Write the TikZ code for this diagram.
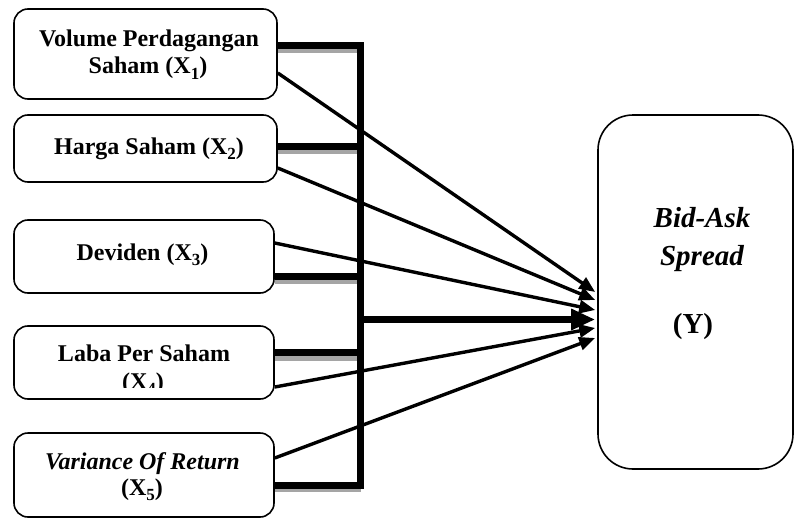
\documentclass[tikz,border=0pt]{standalone}
\usepackage{fontspec}
\setmainfont{Liberation Serif}
\usetikzlibrary{arrows.meta,calc}
\newcommand\lblfont{\fontsize{24}{28}\selectfont\bfseries}
\newcommand\bigfont{\fontsize{29}{34}\selectfont\bfseries}
\newcommand\xsub[1]{\raisebox{-0.22em}{\fontsize{17}{17}\selectfont #1}}
\begin{document}
\begin{tikzpicture}[x=1pt,y=-1pt,
  box/.style={draw, line width=1.6pt, rounded corners=14pt, inner sep=0pt},
  bigbox/.style={draw, line width=1.6pt, rounded corners=35pt, inner sep=0pt,
    minimum width=195pt, minimum height=354pt},
  lbl/.style={anchor=base, inner sep=0pt, font=\lblfont},
  biglbl/.style={anchor=base, inner sep=0pt, font=\bigfont},
  busline/.style={line width=7pt, line join=miter, draw=black},
  shadowline/.style={line width=7pt, draw={rgb,255:red,165;green,165;blue,165}},
  thinarrow/.style={line width=3.4pt, -{Triangle[length=16pt,width=13pt]}},
  bigarrow/.style={line width=7pt, -{Triangle[length=24pt,width=20pt]}}
]
\useasboundingbox (0,0) rectangle (795,519);

% boxes
\node[box, minimum width=263pt, minimum height=90pt] (x1) at (145.5,54) {};
\node[box, minimum width=263pt, minimum height=67pt] (x2) at (145.5,148.5) {};
\node[box, minimum width=260pt, minimum height=73pt] (x3) at (144,256.5) {};
\node[box, minimum width=260pt, minimum height=73pt] (x4) at (144,362.5) {};
\node[box, minimum width=260pt, minimum height=84pt] (x5) at (144,475) {};
\node[bigbox] (y) at (695.5,292) {};

% bus coordinates
\coordinate (bt) at (360.5,45.5);
\coordinate (bb) at (360.5,485);
\coordinate (b2) at (360.5,146);
\coordinate (b3) at (360.5,276);
\coordinate (b4) at (364,352);
\coordinate (bm) at (360.5,319.5);

% shadows
\draw[shadowline] ($(x1.east |- bt)+(0,4)$) -- ($(bt)+(-3.5,4)$);
\draw[shadowline] ($(x2.east |- b2)+(0,4)$) -- ($(b2)+(-3.5,4)$);
\draw[shadowline] ($(x3.east |- b3)+(0,4)$) -- ($(b3)+(-3.5,4)$);
\draw[shadowline] ($(x4.east |- b4)+(0,5)$) -- ($(b4)+(-2,5)$);
\draw[shadowline] ($(x5.east |- bb)+(0,3)$) -- ($(bb)+(0,3)$);

% bus lines
\draw[busline] (x1.east |- bt) -- (bt) -- (bb) -- (x5.east |- bb);
\draw[busline] (x2.east |- b2) -- (b2);
\draw[busline] (x3.east |- b3) -- (b3);
\draw[busline] (x4.east |- b4) -- (b4);
\draw[bigarrow] (bm) -- ($(y.west)+(-2,27.5)$);

% thin arrows
\draw[thinarrow] ($(x1.east)+(0,19)$) -- ($(y.west)+(-2,0)$);
\draw[thinarrow] ($(x2.east)+(0,19.5)$) -- ($(y.west)+(-2,8)$);
\draw[thinarrow] ($(x3.east)+(0,-13.5)$) -- ($(y.west)+(-2,18)$);
\draw[thinarrow] ($(x4.east)+(0,24.5)$) -- ($(y.west)+(-2,36)$);
\draw[thinarrow] ($(x5.east)+(0,-17)$) -- ($(y.west)+(-2,46)$);

% labels
\node[lbl] (l1a) at (149,46.5) {Volume Perdagangan};
\node[lbl] (l1b) at (148,74) {Saham (X\xsub{1})};
\node[lbl] (l2) at (149,154) {Harga Saham (X\xsub{2})};
\node[lbl] (l3) at (142.5,260) {Deviden (X\xsub{3})};
\node[lbl] (l4a) at (144,361.5) {Laba Per Saham};
\begin{scope}
  \clip (90,366) rectangle (200,387);
  \node[lbl] (l4b) at (143,389.5) {(X\xsub{4})};
\end{scope}
\node[lbl] (l5a) at (142.5,469) {\itshape Variance Of Return};
\node[lbl] (l5b) at (142,495) {(X\xsub{5})};
\node[biglbl] (ly1) at (702,227.5) {\itshape Bid-Ask};
\node[biglbl] (ly2) at (702,265) {\itshape Spread};
\node[biglbl] (ly3) at (693,333) {(Y)};
\end{tikzpicture}
\end{document}
